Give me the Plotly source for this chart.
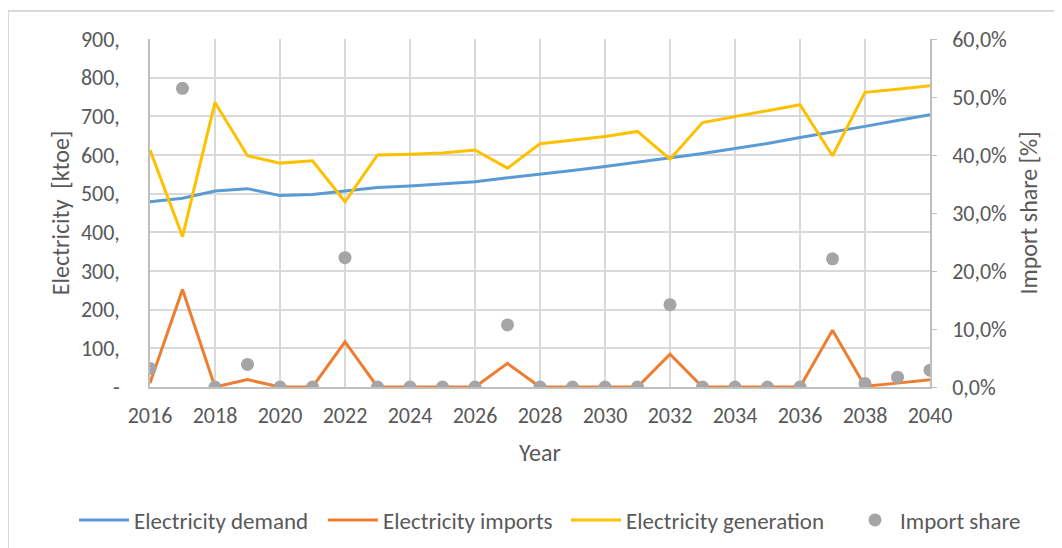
import plotly.graph_objects as go

years = list(range(2016, 2041))
demand = [479, 488, 507, 513, 495, 498, 507, 516, 520, 525, 531, 541, 550, 560, 570, 581, 592, 604, 617, 630, 645, 659, 674, 689, 704]
imports = [10, 252, 0, 19, 0, 0, 117, 0, 0, 0, 0, 61, 0, 0, 0, 0, 85, 0, 0, 0, 0, 147, 2, 10, 19]
generation = [613, 389, 736, 598, 579, 585, 479, 600, 602, 605, 613, 566, 629, 639, 648, 661, 589, 684, 699, 715, 730, 598, 762, 770, 779]
import_share = [3.2, 51.5, 0.0, 3.9, 0.0, 0.0, 22.3, 0.0, 0.0, 0.0, 0.0, 10.7, 0.0, 0.0, 0.0, 0.0, 14.2, 0.0, 0.0, 0.0, 0.0, 22.1, 0.6, 1.7, 2.9]
import_share = [v / 100 for v in import_share]

left_ticks = [0, 100, 200, 300, 400, 500, 600, 700, 800, 900]
left_labels = ["-", "100,", "200,", "300,", "400,", "500,", "600,", "700,", "800,", "900,"]
right_ticks = [0, 0.1, 0.2, 0.3, 0.4, 0.5, 0.6]
right_labels = ["0,0%", "10,0%", "20,0%", "30,0%", "40,0%", "50,0%", "60,0%"]
x_ticks = list(range(2016, 2041, 2))

FONT = "Carlito, Lato, sans-serif"
TXT = "#595959"
GRID = "#d9d9d9"
AXIS = "#bfbfbf"

# plot area in figure coords (page has 8px body margin)
L, R, T, B = 142, 922, 31, 379
W, H = 1062, 548
PW, PH = R - L, B - T

fig = go.Figure()
fig.add_trace(go.Scatter(x=years, y=demand, name="Electricity demand", mode="lines",
                         line=dict(color="#5b9bd5", width=3), legend="legend"))
fig.add_trace(go.Scatter(x=years, y=imports, name="Electricity imports", mode="lines",
                         line=dict(color="#ed7d31", width=3), legend="legend2"))
fig.add_trace(go.Scatter(x=years, y=generation, name="Electricity generation", mode="lines",
                         line=dict(color="#ffc000", width=3), legend="legend3"))
fig.add_trace(go.Scatter(x=years, y=import_share, name="Import share", mode="markers",
                         marker=dict(color="#a5a5a5", size=13), yaxis="y2", legend="legend4"))


def leg(xfig, itemwidth):
    return dict(orientation="h", x=(xfig - L) / PW, xanchor="left", y=(B - 512) / PH,
                yanchor="middle", font=dict(size=23, color=TXT), itemwidth=itemwidth,
                bgcolor="rgba(0,0,0,0)")


fig.update_layout(
    width=W, height=H,
    margin=dict(l=L, r=W - R, t=T, b=H - B, autoexpand=False),
    paper_bgcolor="white", plot_bgcolor="white",
    font=dict(family=FONT, size=22, color=TXT),
    showlegend=True,
    legend=leg(66, 50),
    legend2=leg(315, 50),
    legend3=leg(558, 50),
    legend4=leg(842, 40),
    xaxis=dict(range=[2016, 2040], tickvals=x_ticks, showgrid=True, gridcolor=GRID, gridwidth=1.5,
               showline=True, linecolor=AXIS, linewidth=1.5, zeroline=False,
               ticklabelstandoff=8, tickfont=dict(size=22),
               title=dict(text="Year", standoff=16, font=dict(size=24, color=TXT))),
    yaxis=dict(range=[0, 900], tickvals=left_ticks, ticktext=left_labels, showgrid=True,
               gridcolor=GRID, gridwidth=1.5, showline=True, linecolor=AXIS, linewidth=1.5,
               zeroline=False, ticklabelstandoff=24, tickfont=dict(size=22),
               title=dict(text="Electricity  [ktoe]", standoff=4, font=dict(size=24, color=TXT))),
    yaxis2=dict(range=[0, 0.6], tickvals=right_ticks, ticktext=right_labels, overlaying="y",
                side="right", showgrid=False, showline=True, linecolor=AXIS, linewidth=1.5,
                ticks="outside", ticklen=5, tickcolor=AXIS, zeroline=False, ticklabelstandoff=11,
                tickfont=dict(size=22),
                title=dict(text="Import share [%]", standoff=14, font=dict(size=24, color=TXT))),
    shapes=[dict(type="rect", xref="paper", yref="paper",
                 x0=(0 - L) / PW, x1=(1070 - L) / PW,
                 y0=(B - 560) / PH, y1=(B - 3) / PH,
                 line=dict(color=GRID, width=2), fillcolor="rgba(0,0,0,0)", layer="below")],
)

fig.write_html("out.html")
